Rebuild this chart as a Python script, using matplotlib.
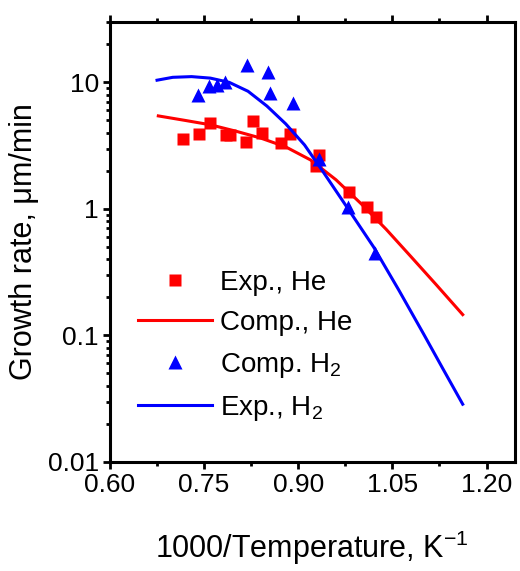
import numpy as np
import matplotlib.pyplot as plt
from matplotlib.ticker import FixedLocator, FixedFormatter, LogLocator, NullFormatter, MultipleLocator

plt.rcParams['font.family'] = ['Liberation Sans', 'DejaVu Sans']
plt.rcParams['mathtext.fontset'] = 'custom'
plt.rcParams['mathtext.rm'] = 'Liberation Sans'

# Exp., He (red squares)
he_x = [0.717, 0.742, 0.759, 0.785, 0.792, 0.817, 0.828, 0.842, 0.873, 0.887,
        0.929, 0.933, 0.981, 1.010, 1.024]
he_y = [3.54, 3.90, 4.79, 3.83, 3.87, 3.39, 4.96, 3.99, 3.29, 3.94,
        2.18, 2.66, 1.35, 1.03, 0.86]

# Comp. H2 (blue triangles)
h2_x = [0.740, 0.758, 0.771, 0.783, 0.819, 0.852, 0.855, 0.891, 0.933, 0.979, 1.023]
h2_y = [8.0, 9.3, 9.6, 10.1, 13.6, 12.1, 8.2, 6.9, 2.46, 1.04, 0.45]

# Comp., He (red curve)
he_cx = [0.677, 0.72, 0.76, 0.80, 0.84, 0.88, 0.92, 0.96, 1.00, 1.04, 1.08, 1.12, 1.162]
he_cy = [5.43, 5.0, 4.62, 4.12, 3.63, 3.09, 2.43, 1.70, 1.10, 0.69, 0.417, 0.251, 0.146]

# Exp., H2 (blue curve)
h2_cx = [0.675, 0.70, 0.73, 0.76, 0.79, 0.82, 0.85, 0.88, 0.91, 0.94, 0.98,
         1.02, 1.06, 1.10, 1.13, 1.162]
h2_cy = [10.4, 10.96, 11.1, 10.8, 10.0, 8.5, 6.5, 4.7, 3.2, 1.95, 0.99,
         0.50, 0.229, 0.102, 0.055, 0.0286]

fig = plt.figure(figsize=(5.2, 5.71), dpi=100)
ax = fig.add_axes([0.2115, 0.191, 0.7785, 0.7705])

ax.plot(he_x, he_y, 's', color='#ff0000', ms=8, mec='none', label='Exp., He')
ax.plot(he_cx, he_cy, '-', color='#ff0000', lw=2.2, label='Comp., He')
ax.plot(h2_x, h2_y, '^', color='#0000ff', ms=9.5, mec='none', label='Comp. H$_2$')
ax.plot(h2_cx, h2_cy, '-', color='#0000ff', lw=2.2, label='Exp., H$_2$')

ax.set_yscale('log')
ax.set_xlim(0.6, 1.245)
ax.set_ylim(0.01, 30)

ax.xaxis.set_major_locator(FixedLocator([0.60, 0.75, 0.90, 1.05, 1.20]))
ax.xaxis.set_major_formatter(FixedFormatter(['0.60', '0.75', '0.90', '1.05', '1.20']))
ax.xaxis.set_minor_locator(MultipleLocator(0.075))
ax.yaxis.set_major_locator(FixedLocator([0.01, 0.1, 1, 10]))
ax.yaxis.set_major_formatter(FixedFormatter(['0.01', '0.1', '1', '10']))
ax.yaxis.set_minor_locator(LogLocator(base=10, subs=np.arange(2, 10)))
ax.yaxis.set_minor_formatter(NullFormatter())

for s in ax.spines.values():
    s.set_linewidth(2.2)
ax.tick_params(which='both', direction='out', top=True, right=False, labelsize=19, width=2)
ax.tick_params(which='major', length=5, pad=3)
ax.tick_params(which='minor', length=3)

ax.set_xlabel('1000/Temperature, K$^{-1}$', fontsize=22, labelpad=23)
ax.set_ylabel('Growth rate, \u03bcm/min', fontsize=22, labelpad=6)

ax.legend(loc='upper left', bbox_to_anchor=(0.028, 0.475), frameon=False, fontsize=20,
          handlelength=2.66, handletextpad=0.3, labelspacing=0.52, borderaxespad=0.2)

fig.savefig('out.png', dpi=100)
